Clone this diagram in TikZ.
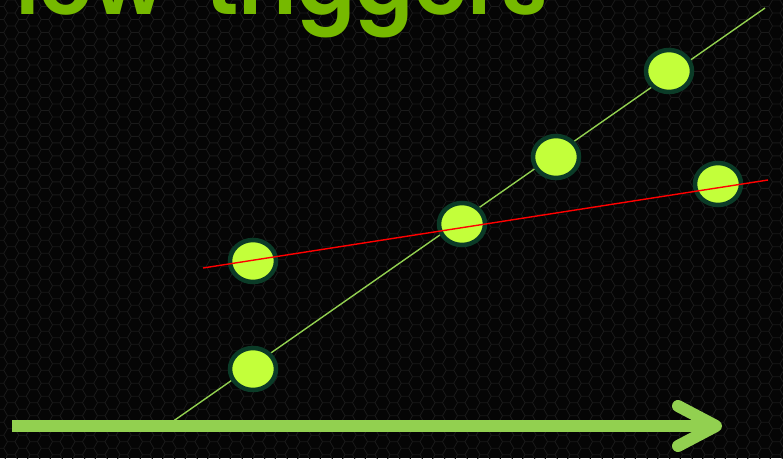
\documentclass[tikz,border=0pt]{standalone}
\usepackage{fontspec}
\newfontfamily\titlefont{Poppins SemiBold}
\definecolor{bgc}{HTML}{050505}
\definecolor{hexc}{HTML}{1A1A1A}
\definecolor{titlegreen}{HTML}{76B900}
\definecolor{linegreen}{HTML}{92D050}
\definecolor{dotfill}{HTML}{C3FF3A}
\definecolor{dotborder}{HTML}{0B3B27}
\tikzset{
  dot/.style={ellipse, draw=dotborder, line width=4.5pt, fill=dotfill,
    minimum width=46pt, minimum height=42pt, inner sep=0pt},
  thinline/.style={line width=1.4pt},
  bigarrow/.style={draw=linegreen, line width=12pt},
}
\usetikzlibrary{shapes.geometric}
\begin{document}
\begin{tikzpicture}[x=1pt,y=-1pt]
\useasboundingbox (0,0) rectangle (783,458);
\fill[bgc] (0,0) rectangle (783,458);
\begin{scope}
\clip (0,0) rectangle (783,458);
\draw[hexc, line width=0.8pt]
  \foreach \i in {0,...,70} {
    \foreach \j in {0,...,36} {
      ({\i*11.25}, {\j*12.99 + mod(\i,2)*6.495}) +(7.5,0) -- +(3.75,6.495) -- +(-3.75,6.495) -- +(-7.5,0) -- +(-3.75,-6.495) -- +(3.75,-6.495) -- cycle
    }
  };
\end{scope}
% title
\node[anchor=base east, inner sep=0pt, text=titlegreen, font=\titlefont\fontsize{86}{86}\selectfont] (title) at (549,14) {new\hskip 40pt triggers};
% green line (under dots)
\coordinate (g0) at (172,422);
\coordinate (g1) at (765,8);
\draw[linegreen, thinline] (g0) -- (g1);
% dots
\node[dot] (d1) at (669,71) {};
\node[dot] (d2) at (556,157) {};
\node[dot] (d3) at (462,224) {};
\node[dot] (d4) at (718,184) {};
\node[dot] (d5) at (253,261) {};
\node[dot] (d6) at (253,369) {};
% red line (over dots)
\coordinate (r0) at (203,268);
\coordinate (r1) at (768,180);
\draw[red, thinline] (r0) -- (r1);
% axis arrow
\coordinate (a0) at (12,426);
\coordinate (a1) at (712,426);
\coordinate (tip) at (716,426);
\coordinate (h1) at (678,406);
\coordinate (h2) at (678,446);
\draw[bigarrow] (a0) -- (a1);
\draw[bigarrow, line cap=round, line join=round] (h1) -- (tip) -- (h2);
\end{tikzpicture}
\end{document}
